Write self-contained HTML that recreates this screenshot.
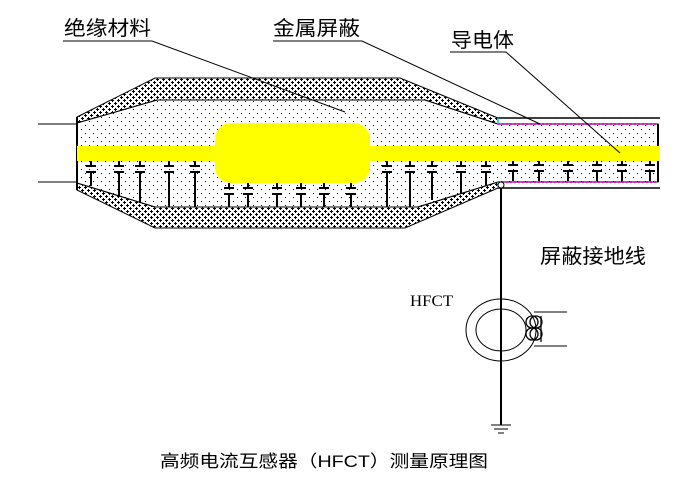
<!DOCTYPE html>
<html><head><meta charset="utf-8"><style>
html,body{margin:0;padding:0;background:#fff;}
svg{display:block}
text{font-family:"Liberation Sans","Noto Sans CJK SC",sans-serif;}
</style></head><body>
<svg width="692" height="484" viewBox="0 0 692 484" xmlns="http://www.w3.org/2000/svg">
<defs>
<pattern id="dots" width="8" height="8" patternUnits="userSpaceOnUse">
<rect x="1" y="1" width="1" height="1" fill="#000"/><rect x="5" y="5" width="1" height="1" fill="#000"/>
</pattern>
<pattern id="hatch" width="6" height="6" patternUnits="userSpaceOnUse">
<path d="M1.5 0v3M0 1.5h3M4.5 3v3M3 4.5h3" stroke="#000" stroke-width="1"/>
</pattern>
</defs>
<path d="M77 117 L155 78 L400 78 L498 118 L498 124 L425 100 L157 100 L77 123 Z" fill="url(#hatch)" stroke="#000" stroke-width="1"/>
<path d="M77 190 L155 228 L405 228 L498 188 L498 182 L418 207 L155 207 L77 183 Z" fill="url(#hatch)" stroke="#000" stroke-width="1"/>
<path d="M77 123 L157 100 L425 100 L498 124 L658 124 L658 182 L498 182 L418 207 L155 207 L77 183 Z" fill="url(#dots)" stroke="#000" stroke-width="1"/>
<line x1="77" y1="117" x2="77" y2="190" stroke="#000" stroke-width="2"/>
<line x1="498" y1="118" x2="660" y2="118" stroke="#000" stroke-width="1.5"/>
<line x1="498" y1="188" x2="660" y2="188" stroke="#000" stroke-width="1.5"/>
<line x1="498" y1="124" x2="658" y2="124" stroke="#f0f" stroke-width="2" stroke-dasharray="2,2"/>
<line x1="498" y1="182" x2="658" y2="182" stroke="#f0f" stroke-width="2" stroke-dasharray="2,2"/>
<line x1="658" y1="124" x2="658" y2="182" stroke="#000" stroke-width="2"/>
<line x1="498" y1="118" x2="498" y2="124" stroke="#0cc" stroke-width="1.5"/>
<line x1="498" y1="182" x2="498" y2="188" stroke="#0cc" stroke-width="1.5"/>
<line x1="38" y1="124" x2="77" y2="124" stroke="#000"/>
<line x1="38" y1="182" x2="77" y2="182" stroke="#000"/>
<rect x="77" y="146" width="583" height="15" fill="#ff0"/>
<rect x="215" y="123" width="155" height="60" rx="16" fill="#ff0"/>
<g stroke="#000" stroke-width="2" fill="none">
<path d="M91 161v5M86 166h10M86 172h10M91 172v14"/>
<path d="M119 161v5M114 166h10M114 172h10M119 172v25"/>
<path d="M140 161v5M135 166h10M135 172h10M140 172v31"/>
<path d="M169 161v5M164 166h10M164 172h10M169 172v35"/>
<path d="M195 161v5M190 166h10M190 172h10M195 172v35"/>
<path d="M229 183v5M224 188h10M224 194h10M229 194v13"/>
<path d="M248 183v5M243 188h10M243 194h10M248 194v13"/>
<path d="M277 183v5M272 188h10M272 194h10M277 194v13"/>
<path d="M301 183v5M296 188h10M296 194h10M301 194v13"/>
<path d="M324 183v5M319 188h10M319 194h10M324 194v13"/>
<path d="M351 183v5M346 188h10M346 194h10M351 194v13"/>
<path d="M387 161v5M382 166h10M382 172h10M387 172v35"/>
<path d="M410 161v5M405 166h10M405 172h10M410 172v35"/>
<path d="M432 161v5M427 166h10M427 172h10M432 172v28"/>
<path d="M461 161v5M456 166h10M456 172h10M461 172v22"/>
<path d="M486 161v5M481 166h10M481 172h10M486 172v14"/>
<path d="M513 161v4M508 165h10M508 171h10M513 171v10"/>
<path d="M539 161v4M534 165h10M534 171h10M539 171v10"/>
<path d="M568 161v4M563 165h10M563 171h10M568 171v10"/>
<path d="M597 161v4M592 165h10M592 171h10M597 171v10"/>
<path d="M622 161v4M617 165h10M617 171h10M622 171v10"/>
<path d="M650 161v4M645 165h10M645 171h10M650 171v10"/>
</g>
<text x="64" y="35" font-size="20" textLength="87" lengthAdjust="spacingAndGlyphs">绝缘材料</text>
<path d="M63 41H152L345 112" stroke="#000" fill="none"/>
<text x="273" y="35" font-size="20" textLength="87" lengthAdjust="spacingAndGlyphs">金属屏蔽</text>
<path d="M273 41H362L540 124" stroke="#000" fill="none"/>
<text x="451" y="47" font-size="20" textLength="63" lengthAdjust="spacingAndGlyphs">导电体</text>
<path d="M450 52H506L620 153" stroke="#000" fill="none"/>
<text x="540" y="263" font-size="20" textLength="106" lengthAdjust="spacingAndGlyphs">屏蔽接地线</text>
<circle cx="501" cy="185" r="3" fill="#fff" stroke="#000"/>
<line x1="501" y1="188" x2="501" y2="425" stroke="#000" stroke-width="2"/>
<path d="M491 425h20M494 429h14M498 433h6" stroke="#000"/>
<text x="410" y="306" font-size="16" textLength="43" lengthAdjust="spacingAndGlyphs" style="font-family:'Liberation Serif',serif">HFCT</text>
<ellipse cx="501" cy="330" rx="35" ry="31" fill="none" stroke="#000"/>
<ellipse cx="501" cy="330" rx="25" ry="21" fill="none" stroke="#000"/>
<path d="M534 312h33M534 346h33" stroke="#000"/>
<g stroke="#000" fill="none" stroke-width="1.3">
<ellipse cx="532" cy="322" rx="6" ry="6"/>
<ellipse cx="532" cy="334" rx="6" ry="6"/>
<ellipse cx="536" cy="322" rx="6" ry="6"/>
<ellipse cx="536" cy="334" rx="6" ry="6"/>
<path d="M541 316v26"/>
</g>
<text x="160" y="467" font-size="17" textLength="328" lengthAdjust="spacingAndGlyphs">高频电流互感器（HFCT）测量原理图</text>
</svg>
</body></html>
